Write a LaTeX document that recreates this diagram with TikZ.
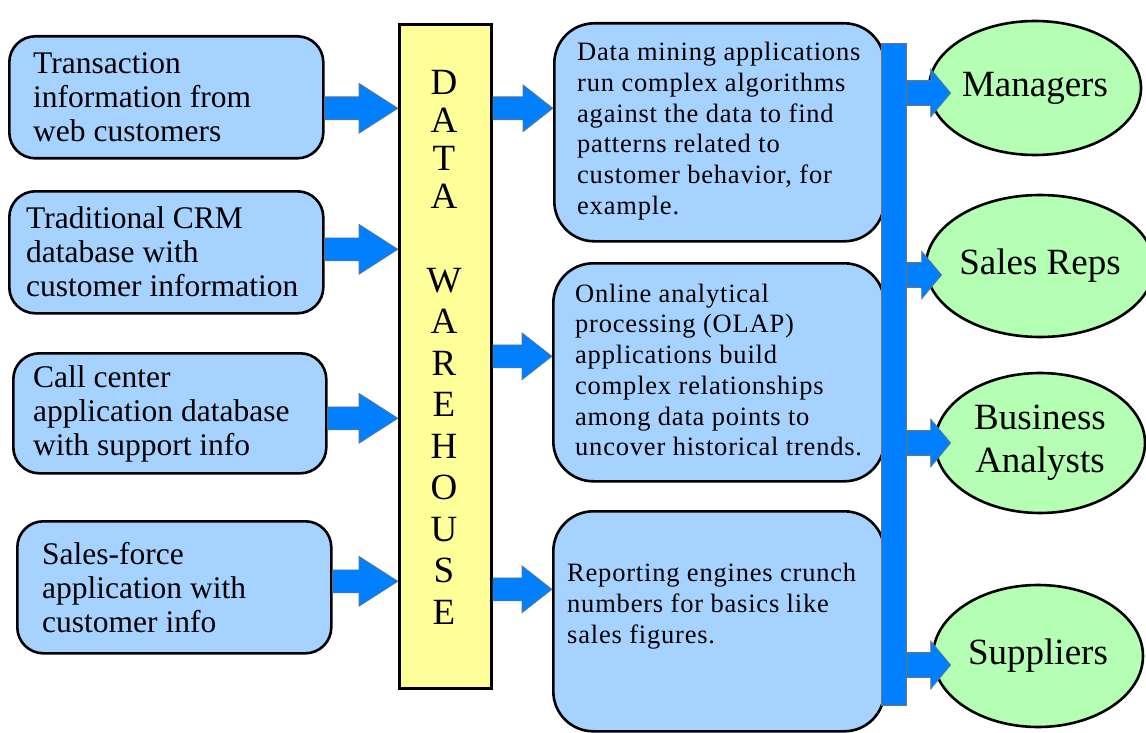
\documentclass[tikz,border=0pt]{standalone}
\usepackage{fontspec}
\setmainfont{Liberation Serif}
\newfontfamily\spacedserif[LetterSpace=3]{Liberation Serif}
\usetikzlibrary{calc,shapes.geometric}

\definecolor{boxblue}{RGB}{166,210,255}
\definecolor{usergreen}{RGB}{180,255,180}
\definecolor{whyellow}{RGB}{255,255,153}
\definecolor{flowblue}{RGB}{0,128,255}

\begin{document}
\begin{tikzpicture}[x=1pt,y=-1pt,
  srcbox/.style={draw=black, line width=2.6pt, fill=boxblue, rounded corners=26pt,
                 inner sep=0pt, anchor=north west},
  appbox/.style={srcbox, rounded corners=40pt},
  srctext/.style={anchor=west, inner sep=0pt, align=left,
                  font=\fontsize{31.5}{34}\selectfont},
  apptext/.style={anchor=west, inner sep=0pt, align=left,
                  font=\spacedserif\fontsize{26.5}{30.7}\selectfont},
  whbox/.style={draw=black, line width=3pt, fill=whyellow, inner sep=0pt, anchor=north west},
  whtext/.style={inner sep=0pt, align=center, font=\fontsize{37}{#1}\selectfont},
  busbar/.style={draw=black!55, line width=0.8pt, fill=flowblue, inner sep=0pt, anchor=north west},
  user/.style={ellipse, draw=black, line width=2.6pt, fill=usergreen, inner sep=0pt,
               align=center, font=\fontsize{37}{43}\selectfont},
  % horizontal block arrow: shaft half-height, head half-height, head length
  blockarrow/.style n args={3}{fill=flowblue, draw=black!55, line width=0.6pt,
    to path={let \p1=(\tikztostart), \p2=(\tikztotarget) in
      (\x1,\y2+#1) -- (\x2-#3,\y2+#1) -- (\x2-#3,\y2+#2) -- (\x2,\y2)
      -- (\x2-#3,\y2-#2) -- (\x2-#3,\y2-#1) -- (\x1,\y2-#1) -- cycle}},
  srcarrow/.style={blockarrow={11.5pt}{25pt}{39pt}},
  apparrow/.style={blockarrow={11.5pt}{23.5pt}{30pt}},
  userarrow/.style={blockarrow={12.5pt}{24pt}{20pt}},
]
\useasboundingbox (0,0) rectangle (1146,733);

% data sources
\node[srcbox, minimum width=314pt, minimum height=122pt] (b1) at (8,35) {};
\node[srcbox, minimum width=314pt, minimum height=122pt] (b2) at (8,190) {};
\node[srcbox, minimum width=313pt, minimum height=120pt] (b3) at (12,352) {};
\node[srcbox, minimum width=314pt, minimum height=132pt] (b4) at (16,520) {};
\node[srctext] (t1) at (33,97) {Transaction\\information from\\web customers};
\node[srctext] (t2) at (26,252) {Traditional CRM\\database with\\customer information};
\node[srctext] (t3) at (33,414) {Call center\\application database\\with support info};
\node[srctext] (t4) at (42,588) {Sales-force\\application with\\customer info};

% the warehouse column
\node[whbox, minimum width=92pt, minimum height=664pt] (wh) at (398,23) {};
\node[whtext=38pt] (whdata) at (444,139) {D\\A\\T\\A};
\node[whtext=41.5pt] (whware) at (444,446) {W\\A\\R\\E\\H\\O\\U\\S\\E};

% applications
\node[appbox, minimum width=330pt, minimum height=218pt] (m1) at (553,22) {};
\node[appbox, minimum width=331pt, minimum height=218pt] (m2) at (552,262) {};
\node[appbox, minimum width=331pt, minimum height=220pt] (m3) at (552,510) {};
\node[apptext] (mt1) at (577,131) {Data mining applications\\run complex algorithms\\against the data to find\\patterns related to\\customer behavior, for\\example.};
\node[apptext] (mt2) at (575,370) {Online analytical\\processing (OLAP)\\applications build\\complex relationships\\among data points to\\uncover historical trends.};
\node[apptext] (mt3) at (567,606) {Reporting engines crunch\\numbers for basics like\\sales figures.};

% distribution bar
\node[busbar, minimum width=25pt, minimum height=662pt] (bar) at (881,43) {};

% users
\node[user, minimum width=212pt, minimum height=134pt] (e1) at (1035,88) {Managers};
\node[user, minimum width=210pt, minimum height=142pt] (e2) at (1040,266) {Sales Reps};
\node[user, minimum width=210pt, minimum height=140pt] (e3) at (1040,443) {Business\\Analysts};
\node[user, minimum width=210pt, minimum height=142pt] (e4) at (1038,656) {Suppliers};

% sources into the warehouse
\coordinate (s1) at ([yshift=-11pt]b1.east);
\coordinate (s2) at ([yshift=3pt]b2.east);
\coordinate (s3) at ([yshift=-5pt]b3.east);
\coordinate (s4) at ([yshift=6pt]b4.east);
\path[srcarrow] (s1) to (s1 -| wh.west);
\path[srcarrow] (s2) to (s2 -| wh.west);
\path[srcarrow] (s3) to (s3 -| wh.west);
\path[srcarrow] (s4) to (s4 -| wh.west);

% warehouse into the applications
\coordinate (p1) at ([yshift=24pt]m1.west);
\coordinate (p2) at ([yshift=16pt]m2.west);
\coordinate (p3) at ([yshift=32pt]m3.west);
\path[apparrow] (p1 -| wh.east) to (p1);
\path[apparrow] (p2 -| wh.east) to (p2);
\path[apparrow] (p3 -| wh.east) to (p3);

% bar out to the users
\coordinate (r1) at ([yshift=-5pt]e1.west);
\coordinate (r2) at ([yshift=-9pt]e2.west);
\coordinate (r3) at (e3.west);
\coordinate (r4) at ([yshift=-9pt]e4.west);
\path[userarrow] (r1 -| bar.east) to ([xshift=23pt]r1);
\path[userarrow] (r2 -| bar.east) to ([xshift=17pt]r2);
\path[userarrow] (r3 -| bar.east) to ([xshift=17pt]r3);
\path[userarrow] (r4 -| bar.east) to ([xshift=19pt]r4);
\end{tikzpicture}
\end{document}
